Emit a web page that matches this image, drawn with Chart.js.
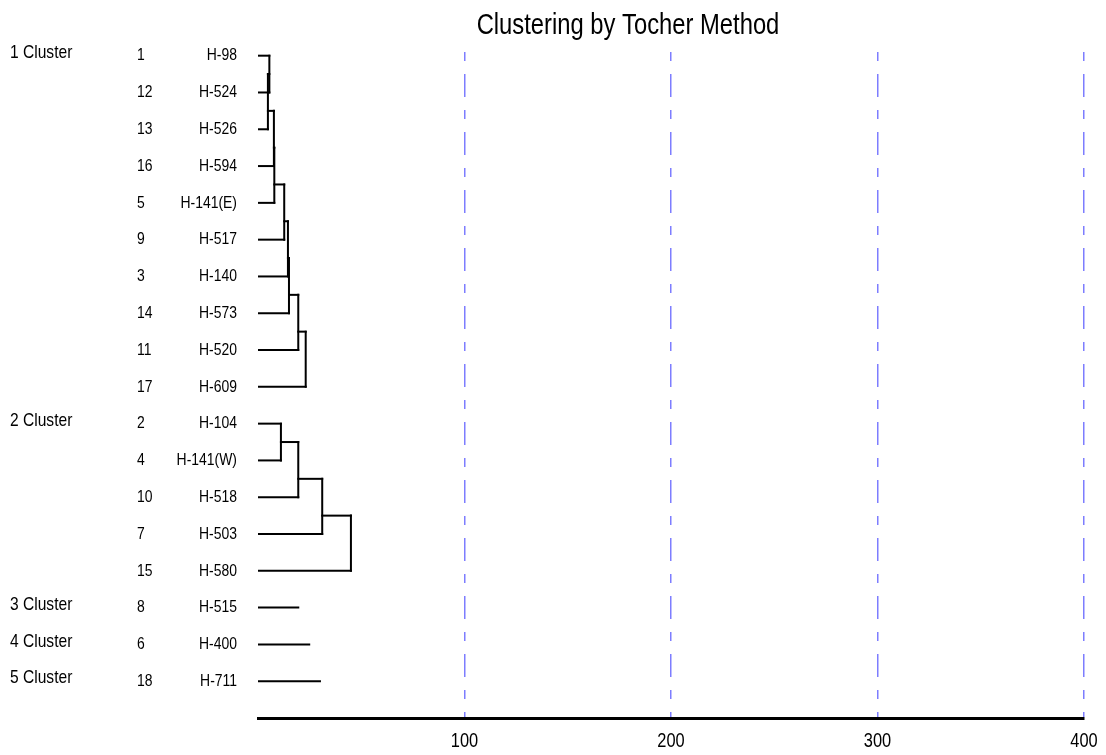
<!DOCTYPE html>
<html>
<head>
<meta charset="utf-8">
<title>Clustering by Tocher Method</title>
<script src="https://cdn.jsdelivr.net/npm/chart.js@4.4.1/dist/chart.umd.min.js"></script>
<style>
  html, body { margin: 0; padding: 0; background: #fff; }
  #wrap { width: 1106px; height: 755px; }
</style>
</head>
<body>
<div id="wrap"><canvas id="myChart" width="1106" height="755"></canvas></div>
<script>
const chartTitle = 'Clustering by Tocher Method';
const clusterNames = ['1 Cluster', '2 Cluster', '3 Cluster', '4 Cluster', '5 Cluster'];
const clusterSizes = [10, 5, 1, 1, 1];
const genotypeNo = [1, 12, 13, 16, 5, 9, 3, 14, 11, 17, 2, 4, 10, 7, 15, 8, 6, 18];
const genotypes = ['H-98', 'H-524', 'H-526', 'H-594', 'H-141(E)', 'H-517', 'H-140', 'H-573', 'H-520', 'H-609',
  'H-104', 'H-141(W)', 'H-518', 'H-503', 'H-580', 'H-515', 'H-400', 'H-711'];
// distance at which each genotype is added to its cluster (first member has none)
// single member clusters keep their own line length
const joinDist = [null, 5.5, 4.8, 7.7, 7.9, 12.7, 14.5, 15.0, 19.5, 23.1,
  null, 11.1, 19.5, 31.1, 45.0, 19.5, 24.8, 30.0];
const xTicks = [100, 200, 300, 400];

const fontFamily = '"Liberation Sans", Arial, sans-serif';
const narrow = 0.82; // text in the original is condensed

// build the staircase segments of each cluster
const segments = [];
let row = 1;
clusterSizes.forEach((size) => {
  const rows = [];
  const h = [];
  for (let k = 0; k < size; k++) {
    rows.push(row + k);
    h.push(joinDist[row + k - 1]);
  }
  if (size === 1) {
    segments.push([[0, rows[0]], [h[0], rows[0]]]);
  } else {
    segments.push([[0, rows[0]], [h[1], rows[0]]]);
    for (let j = 1; j < size; j++) {
      const start = j === 1 ? rows[0] : (rows[j - 2] + rows[j - 1]) / 2;
      segments.push([[0, rows[j]], [h[j], rows[j]]]);
      segments.push([[h[j], start], [h[j], rows[j]]]);
      if (j > 1) segments.push([[h[j - 1], start], [h[j], start]]);
    }
  }
  row += size;
});

const datasets = segments.map((s) => ({
  data: s.map((p) => ({ x: p[0], y: p[1] })),
  showLine: true,
  borderColor: '#000',
  borderWidth: 2,
  borderCapStyle: 'square',
  pointRadius: 0,
  fill: false
}));

function narrowText(ctx, text, x, y, align) {
  ctx.save();
  ctx.translate(x, y);
  ctx.scale(narrow, 1);
  ctx.textAlign = align;
  ctx.fillText(text, 0, 0);
  ctx.restore();
}

// row labels, cluster names, x tick labels and title
const labelPlugin = {
  id: 'rowLabels',
  afterDraw(chart) {
    const ctx = chart.ctx;
    const x = chart.scales.x;
    const y = chart.scales.y;
    ctx.save();
    ctx.fillStyle = '#000';
    ctx.textBaseline = 'middle';
    ctx.font = '17px ' + fontFamily;
    genotypes.forEach((g, i) => {
      const py = y.getPixelForValue(i + 1);
      narrowText(ctx, String(genotypeNo[i]), 137, py, 'left');
      narrowText(ctx, g, 237, py, 'right');
    });
    ctx.font = '19px ' + fontFamily;
    let r = 1;
    clusterNames.forEach((c, i) => {
      narrowText(ctx, c, 10, y.getPixelForValue(r) - 3, 'left');
      r += clusterSizes[i];
    });
    ctx.font = '20px ' + fontFamily;
    xTicks.forEach((t) => {
      narrowText(ctx, String(t), x.getPixelForValue(t), chart.chartArea.bottom + 23, 'center');
    });
    ctx.font = '29px ' + fontFamily;
    ctx.textBaseline = 'alphabetic';
    narrowText(ctx, chartTitle, 628, 34, 'center');
    ctx.restore();
  }
};

const canvas = document.getElementById('myChart');
const myChart = new Chart(canvas.getContext('2d'), {
  type: 'scatter',
  data: { datasets },
  options: {
    responsive: false,
    animation: false,
    layout: { padding: { top: 52, left: 258, right: 22, bottom: 37 } },
    plugins: {
      legend: { display: false },
      tooltip: { enabled: false },
      title: { display: false }
    },
    scales: {
      x: {
        type: 'linear',
        min: 0,
        max: 400,
        afterBuildTicks: (scale) => {
          scale.ticks = [0].concat(xTicks).map((v) => ({ value: v }));
        },
        ticks: { display: false },
        grid: {
          drawTicks: false,
          lineWidth: 1.5,
          color: (c) => (c.tick && c.tick.value === 0 ? 'rgba(0,0,0,0)' : 'rgb(125,125,255)')
        },
        border: { display: true, color: '#000', width: 3, dash: [9, 13, 23, 13] }
      },
      y: {
        type: 'linear',
        reverse: true,
        min: 0.9,
        max: 19,
        display: false
      }
    }
  },
  plugins: [labelPlugin]
});
</script>
</body>
</html>
